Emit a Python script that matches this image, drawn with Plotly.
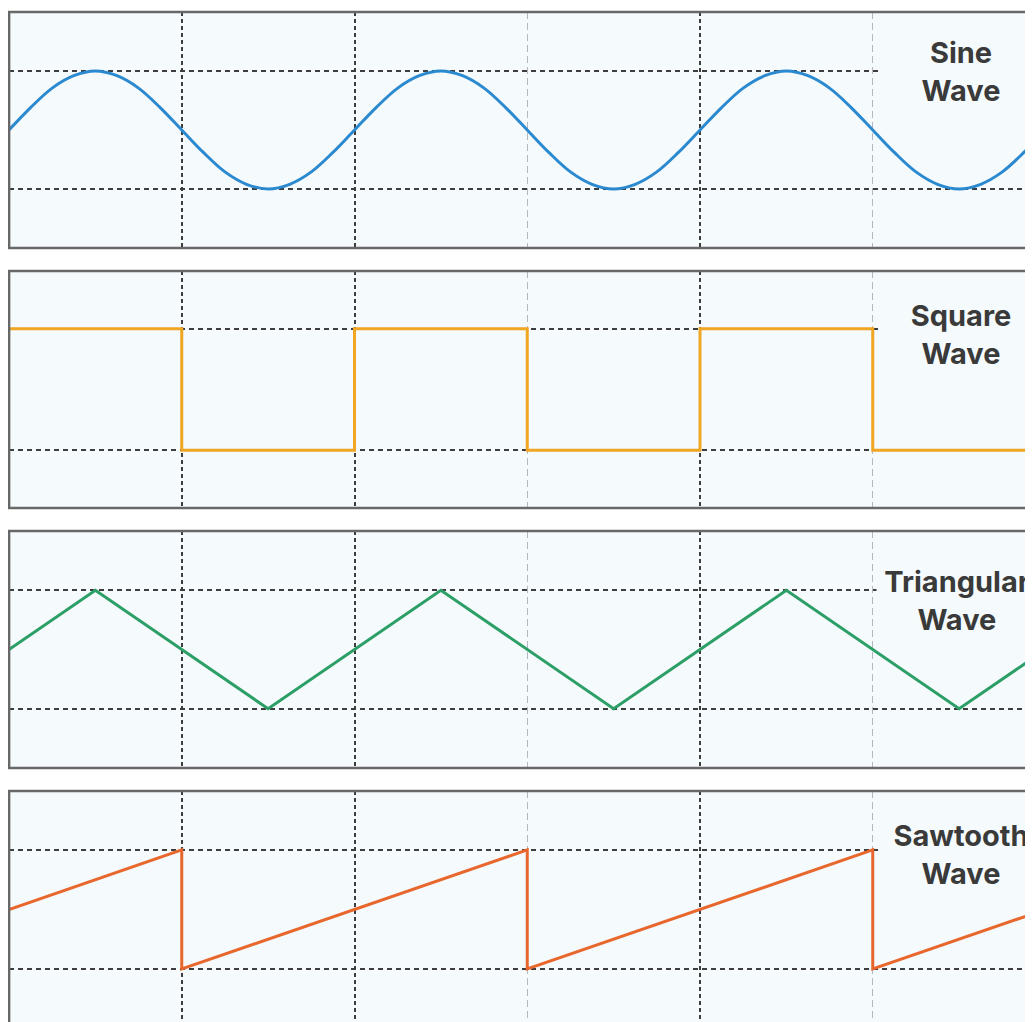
import plotly.graph_objects as go

# ---------------- data ----------------
# x in "periods" of the sine wave, sampled every 1/16 period
sine_x = [0.0, 0.0625, 0.125, 0.1875, 0.25, 0.3125, 0.375, 0.4375,
          0.5, 0.5625, 0.625, 0.6875, 0.75, 0.8125, 0.875, 0.9375,
          1.0, 1.0625, 1.125, 1.1875, 1.25, 1.3125, 1.375, 1.4375,
          1.5, 1.5625, 1.625, 1.6875, 1.75, 1.8125, 1.875, 1.9375,
          2.0, 2.0625, 2.125, 2.1875, 2.25, 2.3125, 2.375, 2.4375,
          2.5, 2.5625, 2.625, 2.6875, 2.75, 2.8125, 2.875, 2.9375, 3.0]
sine_y = [0.0, 0.38, 0.71, 0.92, 1.0, 0.92, 0.71, 0.38,
          0.0, -0.38, -0.71, -0.92, -1.0, -0.92, -0.71, -0.38,
          0.0, 0.38, 0.71, 0.92, 1.0, 0.92, 0.71, 0.38,
          0.0, -0.38, -0.71, -0.92, -1.0, -0.92, -0.71, -0.38,
          0.0, 0.38, 0.71, 0.92, 1.0, 0.92, 0.71, 0.38,
          0.0, -0.38, -0.71, -0.92, -1.0, -0.92, -0.71, -0.38, 0.0]

square_x = [0.0, 0.5, 1.0, 1.5, 2.0, 2.5, 3.0]
square_y = [1, -1, 1, -1, 1, -1, -1]

tri_x = [0.0, 0.25, 0.75, 1.25, 1.75, 2.25, 2.75, 3.0]
tri_y = [0.0, 1.0, -1.0, 1.0, -1.0, 1.0, -1.0, 0.0]

saw_x = [0.0, 0.5, 0.5, 1.5, 1.5, 2.5, 2.5, 3.0]
saw_y = [0.0, 1.0, -1.0, 1.0, -1.0, 1.0, -1.0, 0.0]

labels = ["Sine<br>Wave", "Square<br>Wave", "Triangular<br>Wave", "Sawtooth<br>Wave"]
colors = ["#2a89cf", "#f0a523", "#2c9f66", "#e8672c"]

dark_grid_x = [0.5, 1.0, 2.0]
light_grid_x = [1.5, 2.5]
grid_y = [-1, 1]

# ---------------- layout geometry (figure pixels; page has 8px body margin) ----------------
W, H = 1025, 1014
panel_px = [(4, 240), (263, 500), (523, 760), (783, 1014)]
y_ranges = [[-2.0, 2.0], [-1.95, 1.95], [-2.0, 2.0], [-1.89, 1.99]]
label_y = [1.0, 0.9, 0.83, 0.93]
label_x = [2.755, 2.755, 2.745, 2.755]
x_left_px = 1.0
x_range = [0.0, (W - x_left_px) / 345.5]

PLOT_BG = "#f5fafd"
GRID_DARK = "#3d3d3d"
GRID_LIGHT = "#b3b8c0"

fig = go.Figure()
series = [(sine_x, sine_y, "spline"), (square_x, square_y, "hv"),
          (tri_x, tri_y, "linear"), (saw_x, saw_y, "linear")]

shapes = []
annotations = []
for i, (xs, ys, shape) in enumerate(series):
    n = "" if i == 0 else str(i + 1)
    fig.add_trace(go.Scatter(
        x=xs, y=ys, mode="lines", xaxis="x" + n, yaxis="y" + n,
        line=dict(color=colors[i], width=3, shape=shape,
                  smoothing=1.0 if shape == "spline" else None),
        showlegend=False, hoverinfo="skip"))
    top, bot = panel_px[i]
    d0 = max(0.0, 1 - bot / H)
    d1 = 1 - top / H
    fig.layout["xaxis" + n] = dict(
        domain=[x_left_px / W, 1], range=x_range, anchor="y" + n,
        tickmode="array", tickvals=dark_grid_x, showticklabels=False,
        ticks="", showgrid=True, gridcolor=GRID_DARK, gridwidth=1.5,
        griddash="4px,3px", zeroline=False, showline=False, fixedrange=True,
        minor=dict(tickmode="array", tickvals=light_grid_x, showgrid=True,
                   gridcolor=GRID_LIGHT, gridwidth=1.3, griddash="7px,4px",
                   ticks=""))
    fig.layout["yaxis" + n] = dict(
        domain=[d0, d1], range=y_ranges[i], anchor="x" + n,
        tickmode="array", tickvals=grid_y, showticklabels=False, ticks="",
        showgrid=True, gridcolor=GRID_DARK, gridwidth=1.5,
        griddash="5px,4px", zeroline=False, showline=False, fixedrange=True)
    shapes.append(dict(type="rect", xref="paper", yref="paper",
                       x0=x_left_px / W, x1=1.05,
                       y0=d0 if i < 3 else -0.02, y1=d1,
                       line=dict(color="#686868", width=2.7),
                       fillcolor="rgba(0,0,0,0)", layer="above"))
    annotations.append(dict(
        x=label_x[i], y=label_y[i], xref="x" + n, yref="y" + n,
        text="<b>" + labels[i] + "</b>", showarrow=False,
        xanchor="center", yanchor="middle", align="center",
        font=dict(family="Inter, 'Open Sans', sans-serif", size=29, color="#3a3a3a"),
        bgcolor=PLOT_BG, width=160, borderpad=0))

fig.update_layout(
    width=W, height=H, margin=dict(l=0, r=0, t=0, b=0),
    paper_bgcolor="white", plot_bgcolor=PLOT_BG,
    shapes=shapes, annotations=annotations)

fig.write_html("out.html", config={"displayModeBar": False})
